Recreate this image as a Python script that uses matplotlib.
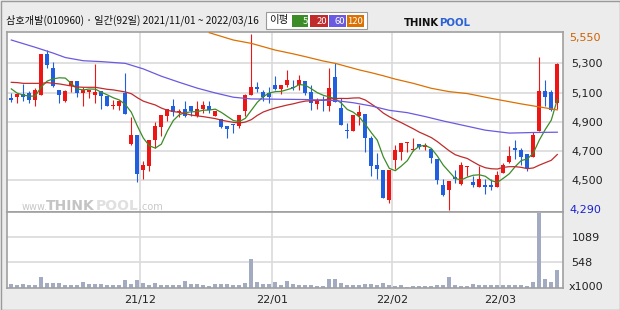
import matplotlib
matplotlib.use("Agg")
import matplotlib.pyplot as plt
from matplotlib.patches import Rectangle
import numpy as np
import pandas as pd

plt.rcParams["font.family"] = ["Noto Sans CJK KR", "DejaVu Sans"]

# trading days 2021/11/01 ~ 2022/03/16 (KRX holidays removed)
holidays = ["2021-12-31", "2022-01-31", "2022-02-01", "2022-02-02", "2022-03-01", "2022-03-09"]
dates = pd.bdate_range("2021-11-01", "2022-03-16")
dates = dates[~dates.isin(pd.to_datetime(holidays))]

opens = [5065, 5070, 5090, 5100, 5050, 5080, 5365, 5265, 5120, 5040,
         5145, 5180, 5100, 5105, 5080, 5110, 5075, 5005, 5010, 5095,
         4750, 4810, 4570, 4595, 4775, 4865, 4940, 5010, 4965, 4985,
         5010, 4940, 4990, 5010, 4940, 4920, 4870, 4885, 4870, 4975,
         5085, 5135, 5105, 5095, 5150, 5125, 5150, 5140, 5150, 5180,
         5105, 5020, 5045, 5005, 5205, 4995, 4840, 4835, 4940, 4955,
         4790, 4600, 4570, 4360, 4640, 4690, 4755, 4705, 4745, 4730,
         4715, 4645, 4465, 4435, 4520, 4470, 4590, 4485, 4450, 4465,
         4465, 4455, 4550, 4625, 4720, 4705, 4680, 4660, 4835, 5110,
         5105, 5030]
highs = [5095, 5090, 5160, 5110, 5130, 5365, 5395, 5310, 5120, 5115,
         5180, 5180, 5135, 5115, 5295, 5110, 5075, 5050, 5050, 5235,
         4935, 4810, 4630, 4775, 4895, 4945, 4985, 5055, 4990, 5045,
         5010, 5040, 5040, 5040, 4970, 4920, 4870, 4885, 4945, 5090,
         5500, 5175, 5120, 5135, 5210, 5150, 5255, 5185, 5220, 5180,
         5150, 5060, 5075, 5270, 5300, 5060, 4890, 4945, 5015, 4955,
         4800, 4685, 4570, 4570, 4740, 4755, 4760, 4785, 4745, 4755,
         4715, 4645, 4510, 4495, 4570, 4625, 4595, 4530, 4595, 4510,
         4510, 4560, 4620, 4735, 4775, 4720, 4680, 4830, 5345, 5185,
         5120, 5300]
lows = [5035, 5030, 5040, 5030, 5010, 5080, 5270, 5135, 5030, 5035,
        5105, 5070, 5010, 5060, 5030, 4985, 5010, 4985, 4980, 4950,
        4740, 4485, 4505, 4565, 4720, 4800, 4905, 4940, 4935, 4935,
        4940, 4935, 4960, 4960, 4940, 4860, 4790, 4820, 4855, 4940,
        5085, 5105, 5040, 5030, 5115, 5090, 5140, 5120, 5120, 5085,
        4980, 4990, 4975, 4970, 5035, 4880, 4790, 4835, 4880, 4690,
        4525, 4510, 4375, 4345, 4575, 4640, 4695, 4700, 4710, 4705,
        4620, 4470, 4390, 4295, 4480, 4465, 4525, 4450, 4450, 4405,
        4435, 4455, 4550, 4615, 4645, 4605, 4565, 4660, 4835, 5005,
        4975, 4990]
closes = [5050, 5090, 5070, 5050, 5120, 5365, 5290, 5145, 5085, 5110,
          5180, 5100, 5115, 5115, 5105, 5075, 5010, 5015, 5040, 4950,
          4810, 4540, 4600, 4775, 4870, 4945, 4985, 4965, 4975, 4940,
          4975, 4990, 5015, 4980, 4970, 4865, 4850, 4875, 4945, 5080,
          5140, 5125, 5070, 5070, 5125, 5150, 5185, 5130, 5185, 5100,
          5030, 5050, 5040, 5130, 5035, 4880, 4835, 4945, 4965, 4785,
          4595, 4575, 4375, 4570, 4705, 4755, 4760, 4715, 4725, 4735,
          4650, 4500, 4400, 4495, 4505, 4605, 4595, 4465, 4510, 4455,
          4455, 4535, 4605, 4665, 4705, 4660, 4585, 4810, 5110, 5070,
          4980, 5295]
volumes = [79, 65, 79, 58, 58, 231, 108, 108, 101, 58,
           65, 58, 123, 87, 79, 79, 72, 65, 65, 166,
           94, 166, 108, 72, 101, 65, 65, 65, 72, 144,
           94, 79, 72, 43, 79, 94, 94, 65, 72, 101,
           620, 130, 87, 79, 123, 72, 144, 87, 72, 65,
           58, 51, 51, 197, 197, 110, 66, 66, 66, 88,
           88, 66, 110, 66, 51, 66, 22, 44, 44, 44,
           51, 66, 66, 234, 66, 51, 51, 88, 58, 66,
           58, 66, 66, 66, 66, 58, 51, 131, 1610, 197,
           131, 394]

# moving-average values before enough history exists
ma5_head = [5125, 5095, 5083, 5075]
ma20_head = [5170, 5168, 5163, 5163, 5163, 5163, 5168, 5163, 5159, 5152,
             5145, 5138, 5136, 5136, 5136, 5129, 5122, 5118, 5111]
ma60_day = [1, 5, 8, 10, 13, 16, 20, 23, 26, 29, 32, 35, 38, 41, 46, 50,
            55, 58, 61, 64, 67, 70, 73, 76, 80, 84, 88, 92]
ma60 = [5460, 5410, 5370, 5340, 5318, 5312, 5300, 5262, 5212, 5170, 5130,
        5097, 5068, 5056, 5054, 5052, 5045, 5030, 5008, 4978, 4962, 4935,
        4905, 4878, 4842, 4822, 4826, 4828]
ma120_day = [34, 38, 41, 45, 48, 50, 53, 55, 59, 61, 63, 65, 68, 71, 74,
             77, 81, 86, 92]
ma120 = [5510, 5460, 5437, 5391, 5365, 5346, 5316, 5300, 5255, 5236, 5215,
         5192, 5163, 5129, 5106, 5093, 5060, 5022, 4981]

price_ticks = [4500, 4700, 4900, 5100, 5300]
vol_ticks = [548, 1089]
ma_labels = ["5", "20", "60", "120"]

RED = "#ee1515"
BLUE = "#1f5fe0"
MA_COLORS = ["#3c8c28", "#c02c2c", "#6a5ae0", "#dc7000"]
GRID = "#dadada"
FRAME = "#a0a0a0"

W, H = 620, 310
fig = plt.figure(figsize=(W / 100, H / 100), dpi=100, facecolor="#ececec")


def fx(px):
    return px / W


def fy(py):
    return 1 - py / H


def frect(x0, y0, x1, y1, **kw):
    fig.patches.append(Rectangle((fx(x0), fy(y1)), (x1 - x0) / W, (y1 - y0) / H,
                                 transform=fig.transFigure, **kw))


ax = fig.add_axes([fx(7), fy(212), (563 - 7) / W, (212 - 32) / H])
axv = fig.add_axes([fx(7), fy(288), (563 - 7) / W, (288 - 212) / H], sharex=ax)

x = np.arange(len(closes))
o = np.array(opens, dtype=float)
h = np.array(highs, dtype=float)
l = np.array(lows, dtype=float)
c = np.array(closes, dtype=float)
colors = np.where(c >= o, RED, BLUE)

ax.vlines(x, l, h, colors=colors, lw=0.8, zorder=2)
ax.bar(x, np.maximum(np.abs(c - o), 7), bottom=np.minimum(o, c), width=0.68,
       color=colors, linewidth=0, zorder=2)

close_s = pd.Series(c)
ma5 = close_s.rolling(5).mean().to_numpy()
ma5[:4] = ma5_head
ma20 = close_s.rolling(20).mean().to_numpy()
ma20[:19] = ma20_head
ax.plot(x, ma5, color=MA_COLORS[0], lw=0.9, zorder=3)
ax.plot(x, ma20, color=MA_COLORS[1], lw=0.9, zorder=3)
ax.plot(np.array(ma60_day) - 1, ma60, color=MA_COLORS[2], lw=0.9, zorder=3)
ax.plot(np.array(ma120_day) - 1, ma120, color=MA_COLORS[3], lw=0.9, zorder=3)

ax.set_xlim(-0.72, 91.95)
ax.set_ylim(4281, 5515)

# month boundaries
month_idx = np.flatnonzero(dates.month[1:] != dates.month[:-1]) + 1
month_lbl = [dates[i].strftime("%y/%m") for i in month_idx]

for a in (ax, axv):
    a.set_facecolor("white")
    a.set_xticks(month_idx - 0.5)
    a.grid(True, color=GRID, lw=1.2, zorder=0)
    a.set_axisbelow(True)
    a.yaxis.tick_right()
    a.tick_params(length=0, labelsize=8, colors="#222222", pad=6)
    for s in a.spines.values():
        s.set_color(FRAME)
        s.set_linewidth(1.2)

ax.set_yticks(price_ticks)
ax.set_yticklabels([f"{v:,}" for v in price_ticks], family="DejaVu Sans")
ax.tick_params(axis="x", labelbottom=False)

axv.bar(x, volumes, width=0.72, color="#a3abc2", linewidth=0, zorder=2)
axv.set_ylim(0, 1633)
axv.set_yticks(vol_ticks)
axv.set_yticklabels([str(v) for v in vol_ticks], family="DejaVu Sans")
axv.set_xticklabels(month_lbl, family="DejaVu Sans")
axv.tick_params(axis="x", pad=5)

fig.text(fx(569), fy(38), "5,550", color="#d06000", fontsize=8, va="center", family="DejaVu Sans")
fig.text(fx(569), fy(210), "4,290", color="#1a22d0", fontsize=8, va="center", family="DejaVu Sans")
fig.text(fx(569), fy(287), "x1000", color="#222222", fontsize=8, va="center", family="DejaVu Sans")

# watermark
fig.text(fx(22), fy(210), "www.", color="#c8c8c8", fontsize=7, va="baseline", family="DejaVu Sans")
fig.text(fx(46), fy(210), "THINK", color="#c4c4c4", fontsize=10, weight="bold", va="baseline", family="DejaVu Sans")
fig.text(fx(96), fy(210), "POOL", color="#e0e0e0", fontsize=10, weight="bold", va="baseline", family="DejaVu Sans")
fig.text(fx(139), fy(210), ".com", color="#c8c8c8", fontsize=7, va="baseline", family="DejaVu Sans")

# title
fig.text(fx(6), fy(20.5), "삼호개발(010960) · 일간(92일) 2021/11/01 ~ 2022/03/16",
         fontsize=7.3, color="#111111", va="center")

# MA legend box
frect(266, 12, 367, 29, facecolor="white", edgecolor="#9a9a9a", lw=0.8)
fig.text(fx(279), fy(20.5), "이평", fontsize=7.5, color="#111111", va="center", ha="center")
boxes = [(292, 308), (310, 328), (329, 346), (347, 364)]
for (bx0, bx1), col, lab in zip(boxes, MA_COLORS, ma_labels):
    frect(bx0, 15, bx1, 27, facecolor=col, edgecolor="none")
    fig.text(fx(bx1 - 0.5), fy(21), lab, fontsize=6.8, color="white", va="center", ha="right",
             family="Noto Sans CJK KR")

# logo
fig.text(fx(404), fy(22.5), "THINK", fontsize=7.3, weight="bold", color="#111111", va="center",
         family="DejaVu Sans")
fig.text(fx(439), fy(22.5), "POOL", fontsize=7.3, weight="bold", color="#2b62d6", va="center",
         family="DejaVu Sans")

# outer frame
frect(0.5, 0.5, 619.5, 309.5, facecolor="none", edgecolor="#9a9a9a", lw=1)

fig.savefig("out.png", dpi=100, facecolor=fig.get_facecolor())
